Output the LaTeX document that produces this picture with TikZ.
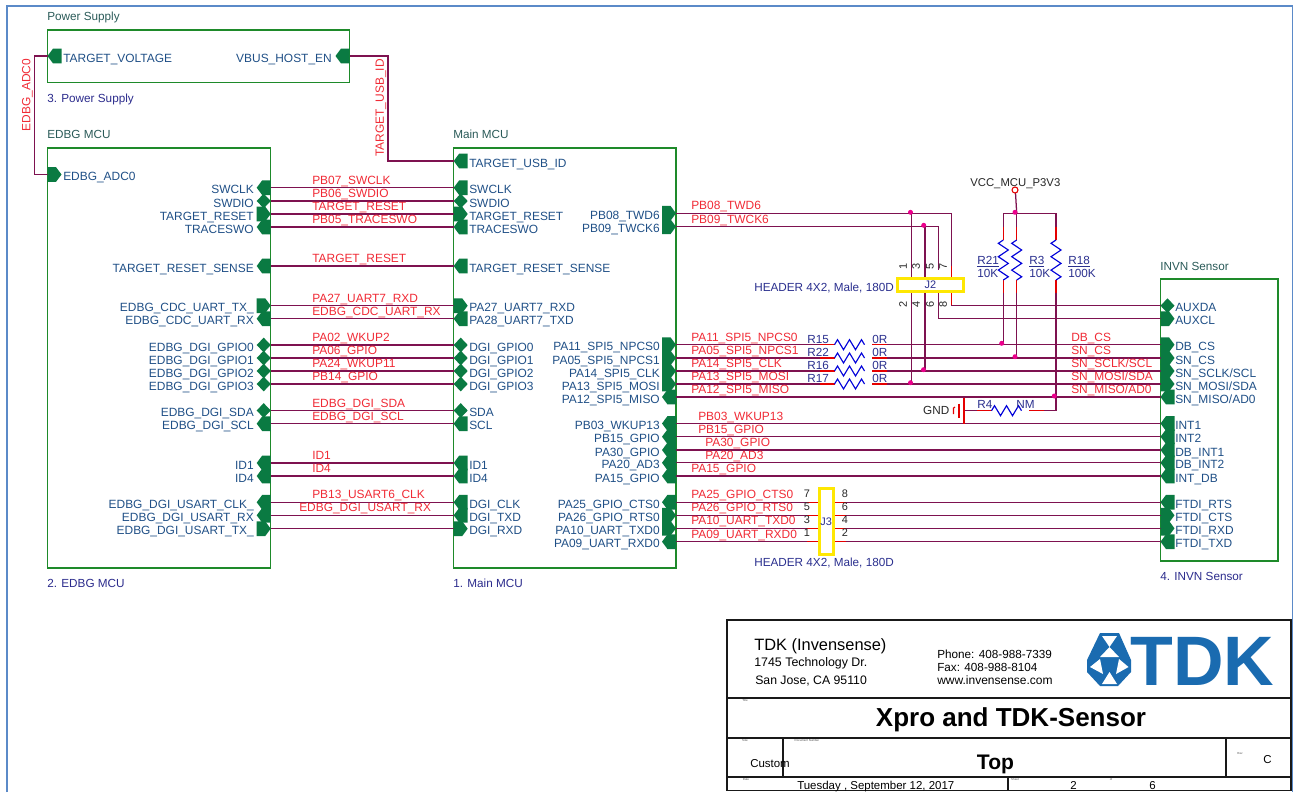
\documentclass[tikz,border=0pt]{standalone}
\usepackage{fontspec}
\setmainfont{Liberation Sans}
\catcode`\_=12
\definecolor{framec}{HTML}{5B8AC8}
\definecolor{boxc}{HTML}{1E8A2A}
\definecolor{pinc}{HTML}{0A7A42}
\definecolor{wirec}{HTML}{7E1250}
\definecolor{labc}{HTML}{F02A35}
\definecolor{pinlab}{HTML}{1F4F86}
\definecolor{titlec}{HTML}{2A5A58}
\definecolor{capc}{HTML}{2B2B8C}
\definecolor{partc}{HTML}{2A2F8E}
\definecolor{tdkc}{HTML}{1A6BB0}
\newcommand\fs[1]{\fontsize{#1}{#1}\selectfont}
\tikzset{
  frameline/.style={draw=framec,line width=1.2pt},
  sheetbox/.style={draw=boxc,line width=0.9pt},
  wire/.style={draw=wirec,line width=0.95pt},
  stub/.style={draw=red!90!black,line width=0.85pt},
  zig/.style={draw=blue!85!black,line width=0.85pt,line join=miter},
  pinfill/.style={fill=pinc},
  plab/.style={inner sep=0pt,text=pinlab,font=\fs{8.95}},
  wlab/.style={inner sep=0pt,text=labc,font=\fs{8.95},anchor=base west},
  ttl/.style={inner sep=0pt,text=titlec,font=\fs{8.8},anchor=base west},
  captxt/.style={inner sep=0pt,text=capc,font=\fs{8.8},anchor=base west},
  parttxt/.style={inner sep=0pt,text=partc,font=\fs{8.8},anchor=base west},
  numtxt/.style={inner sep=0pt,text=black!85,font=\fs{8.2}},
  yellowbox/.style={draw=yellow!95!red,line width=2.1pt,fill=white,inner sep=0pt,text=partc,font=\fs{8.2}},
  tb/.style={draw=black!90,line width=0.85pt},
  tt/.style={inner sep=0pt,text=black,anchor=base west},
  tinytxt/.style={inner sep=0pt,text=black!70,font=\fs{2.2}},
  jdot/.style={fill=magenta}
}
\newcommand\pinL[2]{\fill[pinfill] (#1,#2) -- ++(5.5,-7.4) -- ++(8.5,0) -- ++(0,14.8) -- ++(-8.5,0) -- cycle;}
\newcommand\pinR[2]{\fill[pinfill] (#1,#2) ++(0,-7.4) -- ++(8.5,0) -- ++(5.5,7.4) -- ++(-5.5,7.4) -- ++(-8.5,0) -- cycle;}
\newcommand\pinB[2]{\fill[pinfill] (#1,#2) -- ++(7,-7.4) -- ++(7,7.4) -- ++(-7,7.4) -- cycle;}
\newcommand\hres[4]{% name, left x, right x, y
  \coordinate (#1a) at (#2,#4); \coordinate (#1b) at (#3,#4);
  \draw[stub] (#1a) -- ++(14.5,0);
  \draw[stub] (#1b) -- ++(-15.5,0);
  \draw[zig] (#1a) ++(14.5,0) -- ++(3,-5) -- ++(6,10) -- ++(6,-10) -- ++(6,10) -- ++(6,-10) -- ++(3,5);
}
\newcommand\vres[2]{% name, x : 227 to 292
  \coordinate (#1a) at (#2,227); \coordinate (#1b) at (#2,292.5);
  \draw[stub] (#1a) -- ++(0,13);
  \draw[stub] (#1b) -- ++(0,-13);
  \draw[zig] (#2,240) -- ++(-5,3.3) -- ++(10,6.7) -- ++(-10,6.7) -- ++(10,6.7) -- ++(-10,6.7) -- ++(10,6.7) -- ++(-5,3.2);
}
\newcommand\junc[2]{\fill[jdot] (#1,#2) circle[radius=2.5];}
\begin{document}
\begin{tikzpicture}[x=0.75pt,y=-0.75pt]
\useasboundingbox (0,0) rectangle (1294,792);
% frame
\draw[frameline] (7,792) -- (7,6) -- (1292.5,6) -- (1292.5,792);
% hierarchical blocks
\draw[sheetbox] (47.5,30) rectangle (349.5,82.5);
\draw[sheetbox] (47.5,148) rectangle (270.7,568);
\draw[sheetbox] (453.7,148) rectangle (676,568);
\draw[sheetbox] (1160.5,279) rectangle (1278,561);
\node[ttl] (tPower) at (47,20.5) {Power Supply};
\node[captxt] (cPower) at (47,102) {3. Power Supply};
\node[ttl] (tEdbg) at (47,138) {EDBG MCU};
\node[captxt] (cEdbg) at (47,587) {2. EDBG MCU};
\node[ttl] (tMain) at (453,138) {Main MCU};
\node[captxt] (cMain) at (453,587) {1. Main MCU};
\node[ttl] (tInvn) at (1160,270) {INVN Sensor};
\node[captxt] (cInvn) at (1160,580) {4. INVN Sensor};
% power supply pins
\coordinate (pT) at (47.5,56); \coordinate (pV) at (349.5,56);
\coordinate (eA) at (47.5,174.5); \coordinate (mU) at (453.7,161);
\coordinate (bendA) at (34.5,56); \coordinate (bendB) at (34.5,174.5);
\coordinate (bendC) at (388,56); \coordinate (bendD) at (388,161);
\draw[wire] (pT) -- (bendA) -- (bendB) -- (eA);
\draw[wire] (pV) -- (bendC) -- (bendD) -- (mU);
\pinL{47.5}{56} \pinL{335.5}{56} \pinR{47.5}{174.5} \pinL{453.7}{161}
\node[plab,anchor=base west] (lT) at (63,62.5) {TARGET_VOLTAGE};
\node[plab,anchor=base east] (lV) at (332,62.5) {VBUS_HOST_EN};
\node[plab,anchor=base west] (lA) at (63,180) {EDBG_ADC0};
\node[plab,anchor=base west] (lU) at (469,167) {TARGET_USB_ID};
\node[inner sep=0pt,text=labc,font=\fs{8.95},rotate=90] (wA) at (27.5,95) {EDBG_ADC0};
\node[inner sep=0pt,text=labc,font=\fs{8.95},rotate=90] (wU) at (381,108) {TARGET_USB_ID};
% EDBG to Main rows
\foreach \i/\yy/\ka/\ta/\kb/\tb in {
 1/187.7/L/SWCLK/L/SWCLK,
 2/201/B/SWDIO/B/SWDIO,
 3/214/R/TARGET_RESET/R/TARGET_RESET,
 4/227/L/TRACESWO/L/TRACESWO,
 5/266/L/TARGET_RESET_SENSE/L/TARGET_RESET_SENSE,
 6/305.7/R/EDBG_CDC_UART_TX_/R/PA27_UART7_RXD,
 7/318.7/L/EDBG_CDC_UART_RX/L/PA28_UART7_TXD,
 8/345/B/EDBG_DGI_GPIO0/B/DGI_GPIO0,
 9/358/B/EDBG_DGI_GPIO1/B/DGI_GPIO1,
 10/371/B/EDBG_DGI_GPIO2/B/DGI_GPIO2,
 11/384/B/EDBG_DGI_GPIO3/B/DGI_GPIO3,
 12/410.5/B/EDBG_DGI_SDA/B/SDA,
 13/423.7/L/EDBG_DGI_SCL/L/SCL,
 14/463/L/ID1/L/ID1,
 15/476/L/ID4/L/ID4,
 16/502.3/L/EDBG_DGI_USART_CLK_/L/DGI_CLK,
 17/515.3/L/EDBG_DGI_USART_RX/L/DGI_TXD,
 18/528.7/R/EDBG_DGI_USART_TX_/R/DGI_RXD}{
  \coordinate (e\i) at (270.7,\yy);
  \coordinate (m\i) at (453.7,\yy);
  \draw[wire] (e\i) -- (m\i);
  \csname pin\ka\endcsname{256.7}{\yy}
  \csname pin\kb\endcsname{453.7}{\yy}
  \node[plab,anchor=base east] (le\i) at (254,\yy+6) {\ta};
  \node[plab,anchor=base west] (lm\i) at (469,\yy+6) {\tb};
}
\foreach \i/\yy/\wx/\tx in {
 1/187.7/312/PB07_SWCLK, 2/201/312/PB06_SWDIO, 3/214/312/TARGET_RESET, 4/227/312/PB05_TRACESWO,
 5/266/312/TARGET_RESET, 6/305.7/312/PA27_UART7_RXD, 7/318.7/312/EDBG_CDC_UART_RX,
 8/345/312/PA02_WKUP2, 9/358/312/PA06_GPIO, 10/371/312/PA24_WKUP11, 11/384/312/PB14_GPIO,
 12/410.5/312/EDBG_DGI_SDA, 13/423.7/312/EDBG_DGI_SCL, 14/463/312/ID1, 15/476/312/ID4,
 16/502.3/312/PB13_USART6_CLK, 17/515.3/299/EDBG_DGI_USART_RX}{
  \node[wlab] (we\i) at (\wx,\yy-3.5) {\tx};
}
% Main right side wire ends
\foreach \i/\yy in {1/213.3,2/226.7,3/344.7,4/358,5/371,6/384,7/397,8/423.5,9/436.7,10/450,11/462.8,12/476,13/502.2,14/515.3,15/528.3,16/541.7}{
  \coordinate (r\i) at (676,\yy);
  \coordinate (s\i) at (1160.5,\yy);
}
\coordinate (s17) at (1160.5,305.7); \coordinate (s18) at (1160.5,318.7);
% J2 wiring
\coordinate (j1) at (911.7,213.3); \coordinate (j2) at (911.7,384);
\coordinate (j3) at (925,226.7); \coordinate (j4) at (925,371);
\coordinate (j5) at (938.3,270); \coordinate (j6) at (938.3,290);
\coordinate (j7) at (951.7,270); \coordinate (j8) at (951.7,290);
\draw[wire] (r1) -| (j7);
\draw[wire] (r2) -| (j5);
\draw[wire] (j8) |- (s17);
\draw[wire] (j6) |- (s18);
\draw[wire] (j1) -- (j2);
\draw[wire] (j3) -- (j4);
\draw[stub] (951.7,266) -- (951.7,278);
\draw[stub] (951.7,292) -- (951.7,304.5);
% series resistors
\hres{Ra}{820}{887}{344.7}
\hres{Rb}{820}{887}{358}
\hres{Rc}{820}{887}{371}
\hres{Rd}{820}{887}{384}
\draw[wire] (r3) -- (Raa) (Rab) -- (s3);
\draw[wire] (r4) -- (Rba) (Rbb) -- (s4);
\draw[wire] (r5) -- (Rca) (Rcb) -- (s5);
\draw[wire] (r6) -- (Rda) (Rdb) -- (s6);
\foreach \i in {7,...,16}{\draw[wire] (r\i) -- (s\i);}
\foreach \i/\yy/\nm in {a/344.7/R15,b/358/R22,c/371/R16,d/384/R17}{
  \node[parttxt] (n\i) at (807,\yy-1.7) {\nm};
  \node[parttxt] (v\i) at (872,\yy-1.7) {0R};
}
% J3 stubs
\foreach \yy in {502.2,515.3,528.3,541.7}{
  \draw[stub] (807,\yy) -- (820,\yy);
  \draw[stub] (833,\yy) -- (846,\yy);
}
% pull ups
\coordinate (vcc) at (1015.5,193); \coordinate (barT) at (1016.7,213.3);
\coordinate (barL) at (1003.3,213.3); \coordinate (barR) at (1056,213.3);
\vres{Rx}{1003.3}
\vres{Ry}{1016.7}
\vres{Rz}{1056}
\draw[wire] (vcc) -- (barT);
\draw[wire] (Rxa) -- (barL) -- (barR) -- (Rza);
\draw[wire] (Rya) -- (barT);
\coordinate (dC) at (1003.3,344.7); \coordinate (dD) at (1016.7,358); \coordinate (dE) at (1056,410.7);
\draw[wire] (Rxb) -- (dC);
\draw[wire] (Ryb) -- (dD);
\draw[wire] (Rzb) -- (dE);
\hres{Re}{977}{1044}{410.7}
\coordinate (gndp) at (964,410.7);
\draw[wire] (dE) -- (Reb);
\draw[wire] (Rea) -- (gndp);
% GND symbol
\draw[stub] (964,397.5) -- (964,424);
\draw[stub] (959,403.5) -- (959,418);
\draw[stub] (955,407) -- (953.5,408) -- (953.5,414);
\node[inner sep=0pt,text=black!85,font=\fs{8.8},anchor=base east] (lGnd) at (949.5,414.5) {GND};
\node[draw=red!90!black,line width=0.8pt,circle,minimum size=4.5pt,inner sep=0pt] (cVcc) at (1015,190) {};
\node[inner sep=0pt,text=black!85,font=\fs{8.5},anchor=base west] (lVcc) at (970,186) {VCC_MCU_P3V3};
% junctions
\junc{910.5}{212.3} \junc{923.7}{225.3} \junc{923.5}{369.7} \junc{910.5}{382.7}
\junc{1015}{212.3} \junc{1001.7}{343.3} \junc{1015}{356.7} \junc{1054.3}{396}
% main right pins and labels
\foreach \i/\yy/\ka/\ta in {
 1/213.3/R/PB08_TWD6, 2/226.7/R/PB09_TWCK6, 3/344.7/R/PA11_SPI5_NPCS0, 4/358/R/PA05_SPI5_NPCS1,
 5/371/R/PA14_SPI5_CLK, 6/384/R/PA13_SPI5_MOSI, 7/397/L/PA12_SPI5_MISO, 8/423.5/L/PB03_WKUP13,
 9/436.7/L/PB15_GPIO, 10/450/L/PA30_GPIO, 11/462.8/L/PA20_AD3, 12/476/L/PA15_GPIO,
 13/502.2/L/PA25_GPIO_CTS0, 14/515.3/R/PA26_GPIO_RTS0, 15/528.3/R/PA10_UART_TXD0, 16/541.7/L/PA09_UART_RXD0}{
  \csname pin\ka\endcsname{662}{\yy}
  \node[plab,anchor=base east] (lr\i) at (660,\yy+6) {\ta};
}
% sensor pins and labels
\foreach \i/\yy/\kb/\tb in {17/305.7/B/AUXDA,18/318.7/R/AUXCL,3/344.7/R/DB_CS,4/358/R/SN_CS,5/371/R/{SN_SCLK/SCL},6/384/R/{SN_MOSI/SDA},7/397/L/{SN_MISO/AD0},
 8/423.5/L/INT1,9/436.7/L/INT2,10/450/L/DB_INT1,11/462.8/L/DB_INT2,12/476/L/INT_DB,13/502.2/L/FTDI_RTS,14/515.3/R/FTDI_CTS,15/528.3/R/FTDI_RXD,16/541.7/L/FTDI_TXD}{
  \csname pin\kb\endcsname{1160.5}{\yy}
  \node[plab,anchor=base west] (ls\i) at (1175,\yy+6) {\tb};
}
% main right wire labels
\foreach \i/\yy/\wx/\tx in {
 1/213.3/691/PB08_TWD6, 2/226.7/691/PB09_TWCK6, 3/344.7/691/PA11_SPI5_NPCS0, 4/358/691/PA05_SPI5_NPCS1,
 5/371/691/PA14_SPI5_CLK, 6/384/691/PA13_SPI5_MOSI, 7/397/691/PA12_SPI5_MISO, 8/423.5/698/PB03_WKUP13,
 9/436.7/698/PB15_GPIO, 10/450/705/PA30_GPIO, 11/462.8/705/PA20_AD3, 12/476/691/PA15_GPIO,
 13/502.2/691/PA25_GPIO_CTS0, 14/515.3/691/PA26_GPIO_RTS0, 15/528.3/691/PA10_UART_TXD0, 16/541.7/691/PA09_UART_RXD0,
 21/344.7/1071/DB_CS, 22/358/1071/SN_CS, 23/371/1071/{SN_SCLK/SCL}, 24/384/1071/{SN_MOSI/SDA}, 25/397/1071/{SN_MISO/AD0}}{
  \node[wlab] (wr\i) at (\wx,\yy-3.5) {\tx};
}
% R values
\node[parttxt] (nRx) at (977,264) {\underline{R21}};
\node[parttxt] (vRx) at (977,277) {10K};
\node[parttxt] (nRy) at (1029,264) {\underline{R3}};
\node[parttxt] (vRy) at (1029,277) {10K};
\node[parttxt] (nRz) at (1068,264) {\underline{R18}};
\node[parttxt] (vRz) at (1068,277) {100K};
\node[parttxt] (nRe) at (977,408.5) {R4};
\node[parttxt] (vRe) at (1016,408.5) {NM};
% J2 / J3
\node[yellowbox,minimum width=49.5pt,minimum height=10pt] (J2) at (930.3,285.2) {J2};
\node[yellowbox,minimum width=10.5pt,minimum height=49.5pt] (J3) at (826.2,521.3) {J3};
\node[parttxt] (h2) at (754,291) {HEADER 4X2, Male, 180D};
\node[parttxt] (h3) at (754,566) {HEADER 4X2, Male, 180D};
\foreach \i/\xx/\yy in {1/903/266.7,3/916/266.7,5/930/266.7,7/943/266.7,2/903/304,4/916/304,6/930/304,8/943/304}{
  \node[numtxt,rotate=90] (pa\i) at (\xx,\yy) {\i};
}
\foreach \i/\xx/\yy in {7/807/494,8/845/494,5/807/507,6/845/507,3/807/520,4/845/520,1/807/533,2/845/533}{
  \node[numtxt] (pb\i) at (\xx,\yy) {\i};
}
% title block
\draw[tb] (727,620) rectangle (1291,790.5);
\draw[tb] (727,698) -- (1291,698);
\draw[tb] (727,738) -- (1291,738);
\draw[tb] (727,777) -- (1291,777);
\draw[tb] (783,738) -- (783,777);
\draw[tb] (1226,738) -- (1226,777);
\draw[tb] (1008,777) -- (1008,790.5);
\node[tt,font=\fs{12.3}] (tA) at (754,650) {TDK (Invensense)};
\node[tt,font=\fs{9.3}] (tB) at (754,666) {1745 Technology Dr.};
\node[tt,font=\fs{9.2}] (tC) at (755,684) {San Jose, CA 95110};
\node[tt,font=\fs{8.8}] (tD) at (937,658) {Phone: 408-988-7339};
\node[tt,font=\fs{8.8}] (tE) at (937,671) {Fax: 408-988-8104};
\node[tt,font=\fs{9}] (tF) at (937,684) {www.invensense.com};
\node[inner sep=0pt,font=\fs{19.5}\bfseries] (tG) at (1011,720) {Xpro and TDK-Sensor};
\node[inner sep=0pt,font=\fs{15.8}\bfseries] (tH) at (995.5,764) {Top};
\node[tt,font=\fs{8.6}] (tI) at (750,767) {Custom};
\node[tt,font=\fs{8.6}] (tJ) at (1263,763) {C};
\node[tt,font=\fs{8.6}] (tK) at (797,789) {Tuesday , September 12, 2017};
\node[tt,font=\fs{8.6}] (tL) at (1070,789.5) {2};
\node[tt,font=\fs{8.6}] (tM) at (1149,789.5) {6};
\node[tinytxt] (sA) at (745,700) {Title};
\node[tinytxt] (sB) at (745,740) {Size};
\node[tinytxt] (sC) at (807,740) {Document Number};
\node[tinytxt] (sD) at (746,779) {Date};
\node[tinytxt] (sE) at (1240,753) {Rev};
\node[tinytxt] (sF) at (1015,779) {Sheet};
\node[tinytxt] (sG) at (1111,779) {of};
% logo
\fill[tdkc] (1100,633) -- (1119,633) -- (1131,660) -- (1131,672) -- (1118,686) -- (1100,686) -- (1087,672) -- (1087,660) -- cycle;
\fill[white] (1102,636) -- (1117,636) -- (1109.5,647) -- cycle;
\fill[white] (1109.5,647) -- (1100,657) -- (1119,657) -- cycle;
\fill[white] (1090,667) -- (1100,659) -- (1103,674) -- cycle;
\fill[white] (1128.5,667) -- (1119,659) -- (1116,674) -- cycle;
\fill[white] (1102,684) -- (1117,684) -- (1109.5,672) -- cycle;
\node[inner sep=0pt,text=tdkc,font=\fs{52.5}\bfseries,anchor=base west] (tdk) at (1130,685.5) {TDK};
\end{tikzpicture}
\end{document}
